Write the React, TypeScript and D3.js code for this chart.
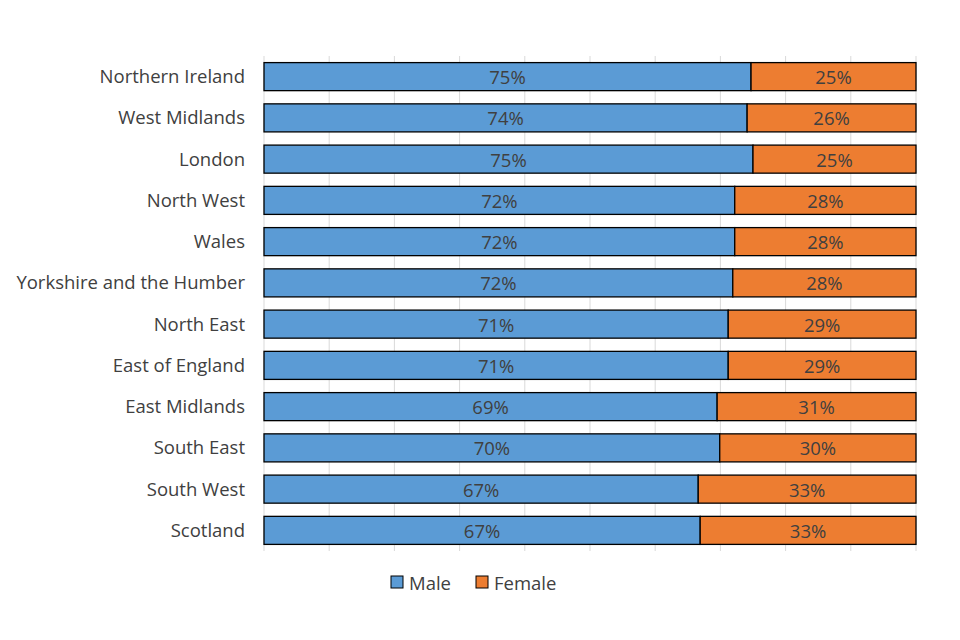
import { useRef, useEffect } from "react";
import * as d3 from "d3";

const regions = [
  "Northern Ireland",
  "West Midlands",
  "London",
  "North West",
  "Wales",
  "Yorkshire and the Humber",
  "North East",
  "East of England",
  "East Midlands",
  "South East",
  "South West",
  "Scotland",
];
const male = [74.7, 74.1, 75.0, 72.2, 72.2, 71.9, 71.2, 71.2, 69.5, 69.9, 66.6, 66.9];
const maleLabels = ["75%", "74%", "75%", "72%", "72%", "72%", "71%", "71%", "69%", "70%", "67%", "67%"];
const femaleLabels = ["25%", "26%", "25%", "28%", "28%", "28%", "29%", "29%", "31%", "30%", "33%", "33%"];
const gridTicks = [0, 10, 20, 30, 40, 50, 60, 70, 80, 90, 100];

const W = 960;
const H = 640;
const margin = { top: 56, right: 44, bottom: 89, left: 264 };
const font = "Open Sans, sans-serif";
const textColor = "#404040";
const blue = "#5B9BD5";
const orange = "#ED7D31";

export default function App() {
  const svgRef = useRef<SVGSVGElement>(null);

  useEffect(() => {
    if (!svgRef.current) return;
    const svg = d3.select(svgRef.current);
    svg.selectAll("*").remove();
    const innerW = W - margin.left - margin.right;
    const innerH = H - margin.top - margin.bottom;

    const x = d3.scaleLinear().domain([0, 100]).range([0, innerW]);
    const y = d3.scaleBand().domain(regions).range([0, innerH]).paddingInner(0.32).paddingOuter(0.16);

    const g = svg.append("g").attr("transform", `translate(${margin.left},${margin.top})`);

    // vertical grid
    g.append("g")
      .selectAll("line")
      .data(gridTicks)
      .join("line")
      .attr("x1", (d) => x(d))
      .attr("x2", (d) => x(d))
      .attr("y1", 0)
      .attr("y2", innerH)
      .attr("stroke", "#d9d9d9")
      .attr("stroke-width", 1);

    const rows = regions.map((r, i) => ({ r, m: male[i], ml: maleLabels[i], fl: femaleLabels[i] }));

    // male bars
    g.append("g")
      .selectAll("rect")
      .data(rows)
      .join("rect")
      .attr("x", x(0))
      .attr("y", (d) => y(d.r)!)
      .attr("width", (d) => x(d.m) - x(0))
      .attr("height", y.bandwidth())
      .attr("fill", blue)
      .attr("stroke", "#000")
      .attr("stroke-width", 1.3);

    // female bars
    g.append("g")
      .selectAll("rect")
      .data(rows)
      .join("rect")
      .attr("x", (d) => x(d.m))
      .attr("y", (d) => y(d.r)!)
      .attr("width", (d) => x(100) - x(d.m))
      .attr("height", y.bandwidth())
      .attr("fill", orange)
      .attr("stroke", "#000")
      .attr("stroke-width", 1.3);

    // value labels
    const labelAttrs = (sel: any) =>
      sel
        .attr("text-anchor", "middle")
        .attr("dominant-baseline", "central")
        .attr("fill", textColor)
        .attr("font-size", 18.5)
        .attr("font-family", font);

    g.append("g")
      .selectAll("text")
      .data(rows)
      .join("text")
      .attr("x", (d) => x(d.m / 2))
      .attr("y", (d) => y(d.r)! + y.bandwidth() / 2)
      .call(labelAttrs)
      .text((d) => d.ml);

    g.append("g")
      .selectAll("text")
      .data(rows)
      .join("text")
      .attr("x", (d) => x((d.m + 100) / 2))
      .attr("y", (d) => y(d.r)! + y.bandwidth() / 2)
      .call(labelAttrs)
      .text((d) => d.fl);

    // category axis
    g.append("g")
      .selectAll("text")
      .data(regions)
      .join("text")
      .attr("x", -19)
      .attr("y", (d) => y(d)! + y.bandwidth() / 2 - 1)
      .attr("text-anchor", "end")
      .attr("dominant-baseline", "central")
      .attr("fill", textColor)
      .attr("font-size", 18.5)
      .attr("font-family", font)
      .text((d) => d);

    // legend
    const legend = svg.append("g").attr("transform", `translate(391,582)`);
    const items = [
      { label: "Male", color: blue, x: 0 },
      { label: "Female", color: orange, x: 85 },
    ];
    items.forEach((it) => {
      legend
        .append("rect")
        .attr("x", it.x)
        .attr("y", -6)
        .attr("width", 12)
        .attr("height", 12)
        .attr("fill", it.color)
        .attr("stroke", "#000")
        .attr("stroke-width", 1);
      legend
        .append("text")
        .attr("x", it.x + 18)
        .attr("y", 0)
        .attr("dominant-baseline", "central")
        .attr("fill", textColor)
        .attr("font-size", 18.5)
        .attr("font-family", font)
        .text(it.label);
    });
  }, []);

  return (
    <div style={{ width: W, height: H }}>
      <svg ref={svgRef} width={W} height={H} style={{ display: "block", margin: "-8px 0 0 -8px" }} />
    </div>
  );
}
